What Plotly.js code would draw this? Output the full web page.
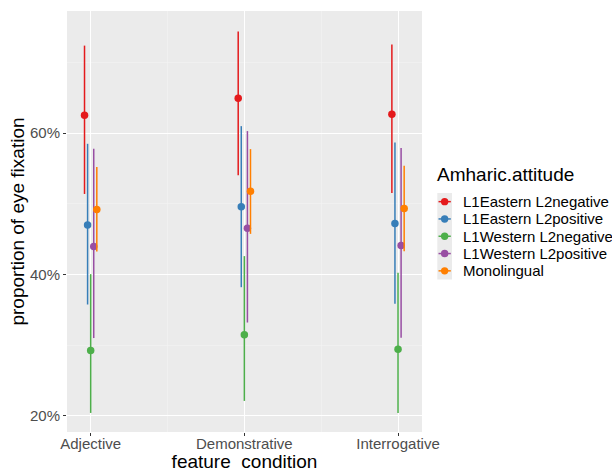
<!DOCTYPE html>
<html>
<head>
<meta charset="utf-8">
<script src="https://cdn.plot.ly/plotly-3.0.1.min.js"></script>
<style>html,body{margin:0;padding:0;background:#fff;}#chart{width:612px;height:472px;}</style>
</head>
<body>
<div id="chart"></div>
<script>
// ---- data (percent) ----
const categories = ["Adjective", "Demonstrative", "Interrogative"];
const groups = ["L1Eastern L2negative", "L1Eastern L2positive", "L1Western L2negative", "L1Western L2positive", "Monolingual"];
const colors = ["#E41A1C", "#377EB8", "#4DAF4A", "#984EA3", "#FF7F00"];

const meanEastNeg = [62.55, 64.95, 62.7];
const lowEastNeg  = [51.4, 54.05, 51.55];
const highEastNeg = [72.4, 74.4, 72.55];

const meanEastPos = [47.0, 49.6, 47.2];
const lowEastPos  = [35.75, 38.2, 35.85];
const highEastPos = [58.5, 61.0, 58.7];

const meanWestNeg = [29.25, 31.45, 29.4];
const lowWestNeg  = [20.4, 22.1, 20.4];
const highWestNeg = [40.05, 42.6, 40.25];

const meanWestPos = [43.95, 46.55, 44.1];
const lowWestPos  = [31.0, 33.2, 31.05];
const highWestPos = [57.8, 60.3, 57.9];

const meanMono = [49.2, 51.8, 49.35];
const lowMono  = [43.25, 45.75, 43.3];
const highMono = [55.2, 57.75, 55.4];

const means = [meanEastNeg, meanEastPos, meanWestNeg, meanWestPos, meanMono];
const lows  = [lowEastNeg, lowEastPos, lowWestNeg, lowWestPos, lowMono];
const highs = [highEastNeg, highEastPos, highWestNeg, highWestPos, highMono];

// dodge offsets (category units)
const dodge = [-0.04, -0.02, 0, 0.02, 0.04];

const font = "Liberation Sans, Arial, sans-serif";
const W = 612, H = 472;
const M = {l: 67, r: 190, t: 11, b: 40};
const plotW = W - M.l - M.r, plotH = H - M.t - M.b;
const px = v => (v - M.l) / plotW;          // pixel x -> paper x
const py = v => (H - M.b - v) / plotH;      // pixel y -> paper y

const traces = groups.map((g, gi) => ({
  type: "scatter", mode: "markers", name: g,
  x: categories.map((c, ci) => ci + dodge[gi]),
  y: means[gi],
  marker: {color: colors[gi], size: 7.5},
  error_y: {type: "data", symmetric: false,
            array: highs[gi].map((h, i) => h - means[gi][i]),
            arrayminus: lows[gi].map((l, i) => means[gi][i] - l),
            width: 0, thickness: 1.5, color: colors[gi]},
  hoverinfo: "skip", showlegend: false
}));

// legend drawn as layout items
const legTop = 193, keyH = 17.3, keyL = 437.3, keyR = 452;
const shapes = [{
  type: "rect", xref: "paper", yref: "paper", layer: "below",
  x0: px(keyL), x1: px(keyR), y0: py(legTop + keyH * groups.length), y1: py(legTop),
  fillcolor: "#EBEBEB", line: {width: 0}
}];
const annotations = [{
  xref: "paper", yref: "paper", x: px(keyL - 2), y: py(175), xanchor: "left", yanchor: "middle",
  showarrow: false, text: "Amharic.attitude", font: {family: font, size: 19, color: "#000"}
}];
groups.forEach((g, gi) => {
  const cy = legTop + keyH * (gi + 0.5);
  shapes.push({type: "line", xref: "paper", yref: "paper",
    x0: px(keyL + 1.2), x1: px(keyR - 1.2), y0: py(cy), y1: py(cy),
    line: {color: colors[gi], width: 1.5}});
  shapes.push({type: "circle", xref: "paper", yref: "paper",
    x0: px((keyL + keyR) / 2 - 3.7), x1: px((keyL + keyR) / 2 + 3.7),
    y0: py(cy + 3.7), y1: py(cy - 3.7),
    fillcolor: colors[gi], line: {width: 0}});
  annotations.push({xref: "paper", yref: "paper", x: px(460.5), y: py(cy),
    xanchor: "left", yanchor: "middle", showarrow: false, text: g,
    font: {family: font, size: 15, color: "#000"}});
});

const layout = {
  width: W, height: H,
  margin: {l: M.l, r: M.r, t: M.t, b: M.b, pad: 0, autoexpand: false},
  paper_bgcolor: "#FFFFFF",
  plot_bgcolor: "#EBEBEB",
  font: {family: font, color: "#000"},
  showlegend: false,
  xaxis: {
    type: "linear", automargin: false,
    range: [-0.154, 2.156],
    tickmode: "array", tickvals: [0, 1, 2], ticktext: categories,
    ticks: "outside", ticklen: 3, tickcolor: "#333333", tickwidth: 1,
    ticklabelstandoff: -5,
    tickfont: {family: font, size: 15, color: "#4D4D4D"},
    showgrid: true, gridcolor: "#FFFFFF", gridwidth: 1,
    minor: {tickmode: "array", tickvals: [0.5, 1.5], showgrid: true, gridcolor: "#F4F4F4", gridwidth: 0.6, ticks: ""},
    zeroline: false, showline: false,
    title: {text: "feature  condition", font: {family: font, size: 19, color: "#000"}, standoff: 0}
  },
  yaxis: {
    automargin: false,
    range: [17.7, 77.3],
    tickmode: "linear", tick0: 0, dtick: 20, ticksuffix: "%",
    ticks: "outside", ticklen: 3, tickcolor: "#333333", tickwidth: 1,
    ticklabelstandoff: 0,
    tickfont: {family: font, size: 15, color: "#4D4D4D"},
    showgrid: true, gridcolor: "#FFFFFF", gridwidth: 1,
    minor: {tickmode: "linear", tick0: 0, dtick: 10, showgrid: true, gridcolor: "#F4F4F4", gridwidth: 0.6, ticks: ""},
    zeroline: false, showline: false,
    title: {text: "proportion of eye fixation", font: {family: font, size: 19, color: "#000"}, standoff: 0}
  },
  shapes: shapes,
  annotations: annotations
};

Plotly.newPlot("chart", traces, layout, {displayModeBar: false, staticPlot: true});
</script>
</body>
</html>
